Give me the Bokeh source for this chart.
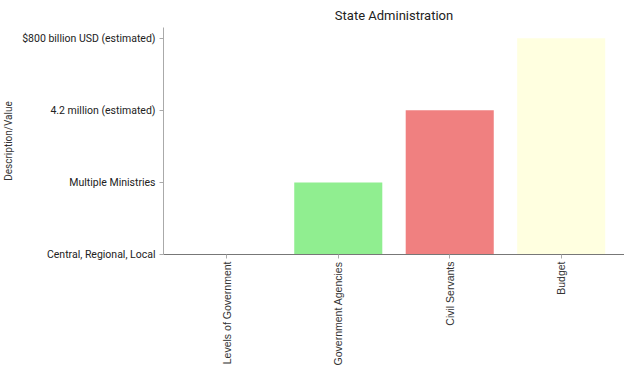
from bokeh.plotting import figure
from bokeh.models import Range1d, FactorRange, FixedTicker, ColumnDataSource
from bokeh.embed import file_html
from bokeh.resources import INLINE
import math

categories = ["Levels of Government", "Government Agencies", "Civil Servants", "Budget"]
descriptions = ["Central, Regional, Local", "Multiple Ministries", "4.2 million (estimated)", "$800 billion USD (estimated)"]
bar_levels = [0, 1, 2, 3]
colors = ["#90EE90", "#90EE90", "#F08080", "#FFFFE0"]

source = ColumnDataSource(dict(cat=categories, top=bar_levels, color=colors))

p = figure(
    x_range=FactorRange(*categories, range_padding=0.034),
    y_range=Range1d(0, 3.15),
    width=624, height=368,
    output_backend="svg", toolbar_location=None,
    title="State Administration",
    min_border_left=150, min_border_right=0, min_border_top=14, min_border_bottom=90,
)
p.vbar(x="cat", top="top", bottom=0, width=0.79, fill_color="color", line_color=None, source=source)

p.title.align = "center"
p.title.text_font = "Roboto"
p.title.text_font_size = "13px"
p.title.text_font_style = "normal"
p.title.text_color = "#222222"

p.yaxis.ticker = FixedTicker(ticks=[0, 1, 2, 3])
p.yaxis.major_label_overrides = {i: d for i, d in enumerate(descriptions)}
p.yaxis.axis_label = "Description/Value"
p.yaxis.axis_label_text_font = "Roboto"
p.yaxis.axis_label_text_font_size = "10px"
p.yaxis.axis_label_text_font_style = "normal"
p.yaxis.axis_label_text_color = "#333333"
p.yaxis.axis_label_standoff = 5
p.yaxis.major_label_text_font = "Roboto"
p.yaxis.major_label_text_font_size = "10.5px"
p.yaxis.major_label_text_color = "#222222"
p.yaxis.major_label_standoff = 4
p.yaxis.minor_tick_line_color = None
p.yaxis.axis_line_color = "#aaaaaa"
p.yaxis.major_tick_line_color = "#aaaaaa"
p.yaxis.major_tick_in = 0
p.yaxis.major_tick_out = 4

p.xaxis.major_label_orientation = math.pi / 2
p.xaxis.major_label_text_font = "Liberation Sans"
p.xaxis.major_label_text_font_size = "10.5px"
p.xaxis.major_label_text_color = "#333333"
p.xaxis.major_label_standoff = 3
p.xaxis.axis_line_color = "#777777"
p.xaxis.major_tick_line_color = "#aaaaaa"
p.xaxis.major_tick_in = 0
p.xaxis.major_tick_out = 4

p.xgrid.grid_line_color = None
p.ygrid.grid_line_color = None
p.outline_line_color = None

open("out.html", "w").write(file_html(p, INLINE))
